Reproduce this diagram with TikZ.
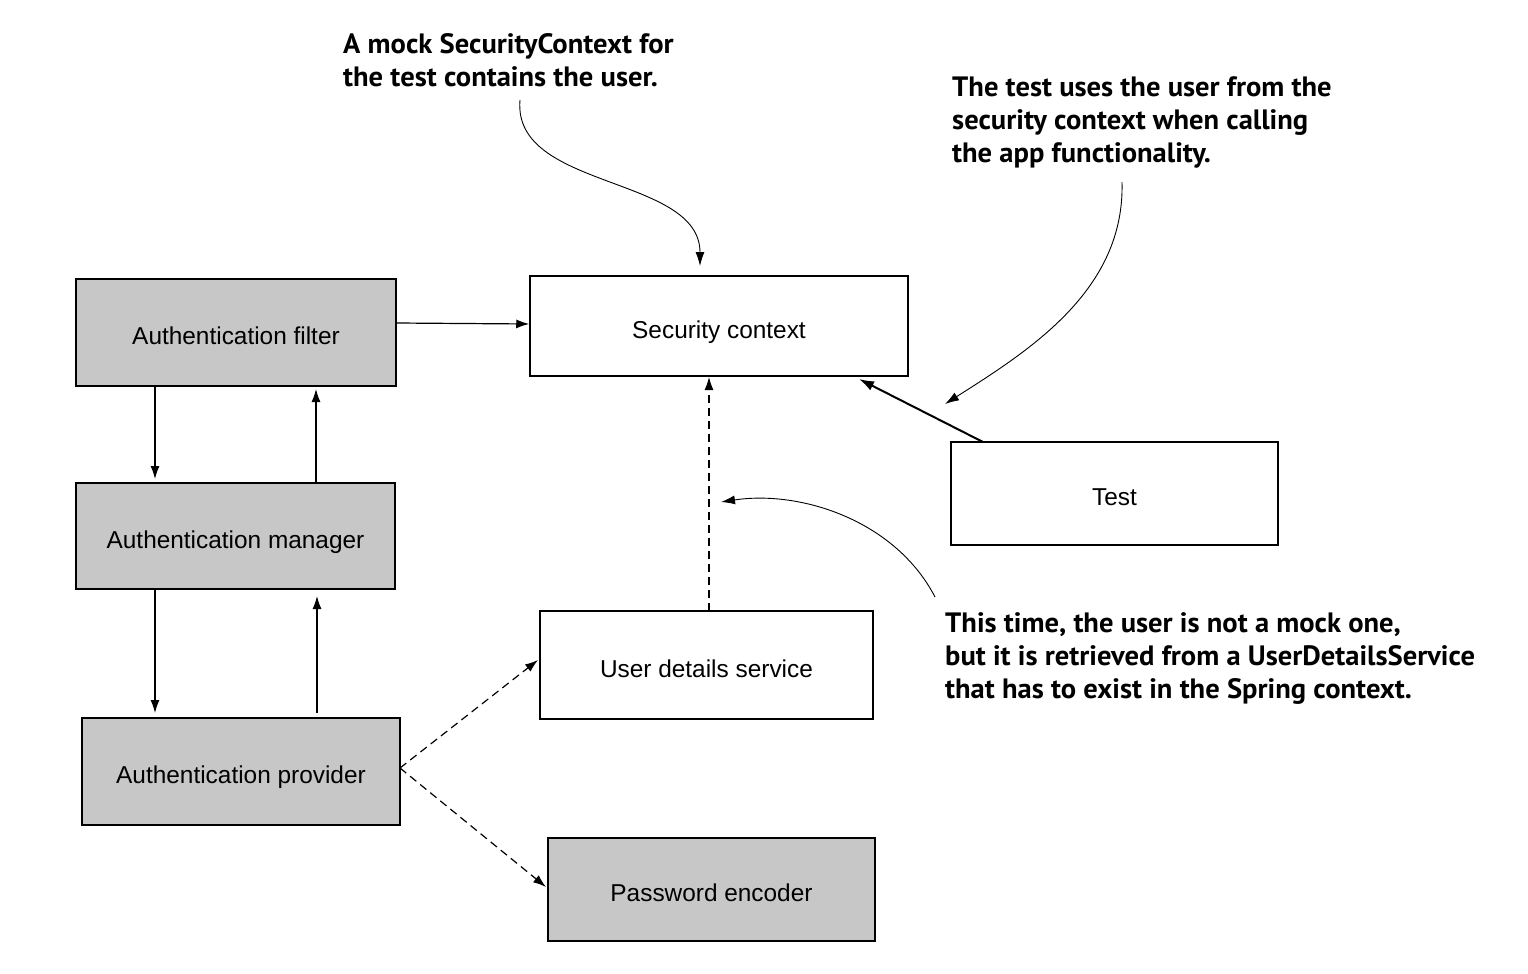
\documentclass[tikz,border=0pt]{standalone}
\usepackage{fontspec}
\setmainfont{Liberation Sans}
\newfontfamily\annfont[FakeStretch=1.02]{PT Sans}
\usetikzlibrary{arrows.meta}
\definecolor{boxgray}{HTML}{C6C7C6}
\tikzset{
  box/.style={draw=black, line width=1.5pt, minimum width=#1, inner sep=0pt, font=\fontsize{24.4}{28}\selectfont},
  graybox/.style={box=#1, fill=boxgray},
  whitebox/.style={box=#1, fill=white},
  arr/.style={line width=1.2pt, -{Latex[length=13pt,width=9pt]}},
  darr/.style={arr, dash pattern=on 8pt off 5pt},
  curvearr/.style={line width=0.9pt, -{Latex[length=14pt,width=9pt]}},
  ann/.style={align=left, anchor=north west, inner sep=0pt, font=\annfont\bfseries\fontsize{28}{33}\selectfont}
}
\newcommand{\lbl}[1]{\raisebox{-12pt}[0pt][0pt]{#1}}
\begin{document}
\begin{tikzpicture}[x=1pt,y=-1pt]
\useasboundingbox (0,0) rectangle (1528,974);
% boxes
\node[graybox=320pt, minimum height=107pt] (filter) at (236,332.5) {\lbl{Authentication filter}};
\node[graybox=319pt, minimum height=106pt] (manager) at (235.5,536) {\lbl{Authentication manager}};
\node[graybox=318pt, minimum height=107pt] (provider) at (241,771.5) {\lbl{Authentication provider}};
\node[whitebox=378pt, minimum height=100pt] (sc) at (719,326) {\lbl{Security context}};
\node[whitebox=327pt, minimum height=103pt] (test) at (1114.5,493.5) {\lbl{Test}};
\node[whitebox=333pt, minimum height=108pt] (uds) at (706.5,665) {\lbl{User details service}};
\node[graybox=327pt, minimum height=103pt] (pe) at (711.5,889.5) {\lbl{Password encoder}};
% annotations
\node[ann] (a1) at (343,33) {A mock SecurityContext for\\the test contains the user.};
\node[ann] (a2) at (952,76) {The test uses the user from the\\security context when calling\\the app functionality.};
\node[ann] (a3) at (945,612) {This time, the user is not a mock one,\\but it is retrieved from a UserDetailsService\\that has to exist in the Spring context.};
% coordinates
\coordinate (c1s) at (520,100);
\coordinate (c1e) at (700,266);
\coordinate (c2s) at (1122,182);
\coordinate (c2e) at (945,404);
\coordinate (c3s) at (935,597);
\coordinate (c3e) at (721,502);
\coordinate (pr) at (400,768);
% arrows
\draw[arr] (filter.east |- 0,323) -- (sc.west |- 0,324);
\draw[arr] (155,386) -- (155,479);
\draw[arr] (316,483) -- (316,389);
\draw[arr] (155,589) -- (155,713);
\draw[arr] (317,713) -- (317,596);
\draw[darr] (pr) -- (538,660);
\draw[darr] (pr) -- (546,887);
\draw[darr] (709,611) -- (709,377);
\draw[line width=2pt, -{Latex[length=15pt,width=10pt]}] (983,442) -- (859,379);
% curved annotation arrows
\draw[curvearr] (c1s) .. controls (512,190) and (700,175) .. (c1e);
\draw[curvearr] (c2s) .. controls (1125,290) and (1030,350) .. (c2e);
\draw[curvearr] (c3s) .. controls (895,520) and (800,490) .. (c3e);
\end{tikzpicture}
\end{document}
